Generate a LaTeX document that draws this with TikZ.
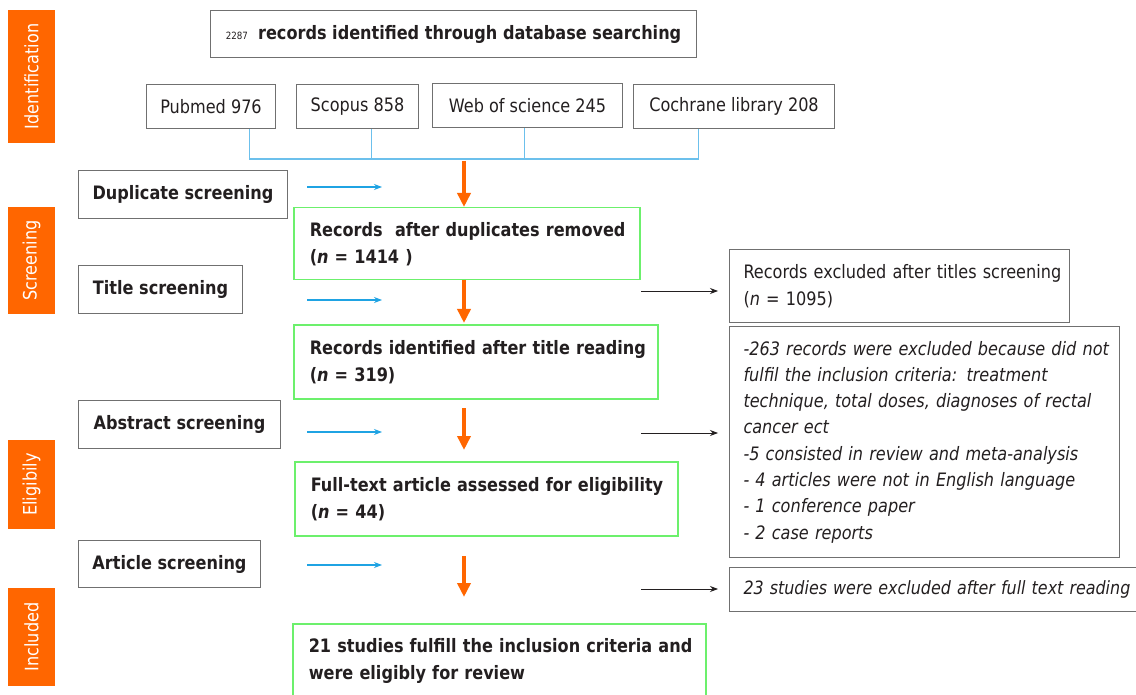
\documentclass[tikz,border=0pt]{standalone}
\usepackage{fontspec}
\setmainfont{DejaVu Sans}[FakeStretch=0.87]
\usetikzlibrary{arrows.meta,calc}
\definecolor{orng}{HTML}{FF6600}
\definecolor{txt}{HTML}{231F20}
\definecolor{bgray}{HTML}{707070}
\definecolor{bgreen}{HTML}{6CF06C}
\definecolor{ablue}{HTML}{1FA3E3}
\definecolor{lblue}{HTML}{6CC0EC}
\newcommand\fsz{\fontsize{18.5}{27}\selectfont}
\begin{document}
\begin{tikzpicture}[x=1pt,y=-1pt,
  every node/.style={text=txt,font=\fsz},
  side/.style={fill=orng,text=white,rotate=90,inner sep=0,minimum height=47},
  gbox/.style={draw=bgray,line width=1pt,anchor=north west,inner sep=0},
  grbox/.style={draw=bgreen,line width=1.5pt,anchor=north west,inner ysep=0,inner xsep=16,align=left},
  rbox/.style={draw=bgray,line width=1pt,anchor=north west,inner ysep=0,inner xsep=14,align=left},
  conn/.style={lblue,line width=1.2pt},
  barrow/.style={ablue,line width=1.2pt,-{Stealth[length=8pt,width=6pt]}},
  karrow/.style={txt,line width=0.8pt,-{Stealth[length=8pt,width=6pt]}},
  oarrow/.style={orng,line width=3.5pt,-{Triangle[length=14pt,width=13pt]}}]
\clip (0,0) rectangle (1136,695);
\fill[white] (0,0) rectangle (1136,695);
% side bars
\node[side,minimum width=133] (sid) at (31.5,76.5) {Identification};
\node[side,minimum width=107] (sscr) at (31.5,260.5) {Screening};
\node[side,minimum width=89] (self) at (31.5,484.5) {Eligibily};
\node[side,minimum width=98] (sinc) at (31.5,637) {Included};
% top
\node[gbox,minimum width=486,minimum height=47] (top) at (210,10)
  {{\fontsize{10}{12}\selectfont 2287}\ \ \textbf{records identified through database searching}};
\node[gbox,minimum width=129,minimum height=44] (pub) at (146,84) {Pubmed 976};
\node[gbox,minimum width=122,minimum height=44] (sco) at (296,84) {Scopus 858};
\node[gbox,minimum width=190,minimum height=44] (wos) at (432,83) {Web of science 245};
\node[gbox,minimum width=201,minimum height=44] (coc) at (633,84) {Cochrane library 208};
% connectors
\coordinate (hub) at (464,159);
\draw[conn] ([xshift=38.5pt]pub.south) |- (hub);
\draw[conn] ([xshift=14pt]sco.south) |- (hub);
\draw[conn] ([xshift=-3pt]wos.south) |- (hub);
\draw[conn] ([xshift=-35.5pt]coc.south) |- (hub);
% left boxes
\node[gbox,minimum width=209,minimum height=48] (dup) at (78,170) {\textbf{Duplicate screening}};
\node[gbox,minimum width=164,minimum height=48] (tit) at (78,265) {\textbf{Title screening}};
\node[gbox,minimum width=202,minimum height=48] (abs) at (78,400) {\textbf{Abstract screening}};
\node[gbox,minimum width=182,minimum height=47] (art) at (78,540) {\textbf{Article screening}};
% green boxes
\node[grbox,text width=314,minimum height=72] (g1) at (293,207)
  {\mbox{\textbf{Records\ \ after duplicates removed}}\\\mbox{\textbf{(\textit{n} = 1414 )}}};
\node[grbox,text width=332,minimum height=74] (g2) at (293,324)
  {\mbox{\textbf{Records identified after title reading}}\\\mbox{\textbf{(\textit{n} = 319)}}};
\node[grbox,text width=351,minimum height=74] (g3) at (294,461)
  {\mbox{\textbf{Full-text article assessed for eligibility}}\\\mbox{\textbf{(\textit{n} = 44)}}};
\node[grbox,text width=381,minimum height=74] (g4) at (292,623)
  {\mbox{\textbf{21 studies fulfill the inclusion criteria and}}\\\mbox{\textbf{were eligibly for review}}};
% right boxes
\node[rbox,text width=312,minimum height=73] (r1) at (729,249)
  {\mbox{Records excluded after titles screening}\\\mbox{(\textit{n} = 1095)}};
\node[rbox,text width=362,minimum height=231,font=\fontsize{18.5}{26.3}\selectfont\itshape] (r2) at (729,326)
  {\mbox{-263 records were excluded because did not}\\\mbox{fulfil the inclusion criteria: treatment}\\\mbox{technique, total doses, diagnoses of rectal}\\\mbox{cancer ect}\\\mbox{-5 consisted in review and meta-analysis}\\\mbox{- 4 articles were not in English language}\\\mbox{- 1 conference paper}\\\mbox{- 2 case reports}};
\node[rbox,text width=392,minimum height=44,font=\fontsize{18.3}{27}\selectfont\itshape] (r3) at (729,567)
  {\mbox{23 studies were excluded after full text reading}};
% orange arrows
\coordinate (o1) at (464,161);
\coordinate (o2a) at (464,280); \coordinate (o2b) at (464,323);
\coordinate (o3a) at (464,408); \coordinate (o3b) at (464,450);
\coordinate (o4a) at (464,556); \coordinate (o4b) at (464,597);
\draw[oarrow] (o1) -- (g1.north -| o1);
\draw[oarrow] (o2a) -- (o2b);
\draw[oarrow] (o3a) -- (o3b);
\draw[oarrow] (o4a) -- (o4b);
% blue arrows
\foreach \y/\n in {187/1,300/2,432/3,565/4}{
  \coordinate (bs\n) at (307,\y); \coordinate (be\n) at (382,\y);
  \draw[barrow] (bs\n) -- (be\n);}
% black arrows
\foreach \y/\n in {291/1,433/2,589/3}{
  \coordinate (ks\n) at (641,\y); \coordinate (ke\n) at (718,\y);
  \draw[karrow] (ks\n) -- (ke\n);}
\end{tikzpicture}
\end{document}
